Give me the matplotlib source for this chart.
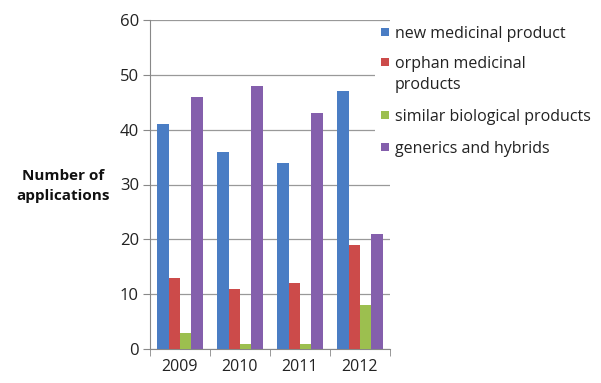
import numpy as np
import matplotlib
matplotlib.use('Agg')
import matplotlib.pyplot as plt
from matplotlib.patches import Rectangle

years = ['2009', '2010', '2011', '2012']
new_medicinal = [41, 36, 34, 47]
orphan_medicinal = [13, 11, 12, 19]
similar_biological = [3, 1, 1, 8]
generics_hybrids = [46, 48, 43, 21]

series_labels = ['new medicinal product', 'orphan medicinal\nproducts',
                 'similar biological products', 'generics and hybrids']
series_colors = ['#4A7DC4', '#CC4B4A', '#9CBF4F', '#845FAC']

plt.rcParams['font.family'] = ['Open Sans', 'DejaVu Sans']

W, H = 601, 383
fig = plt.figure(figsize=(W/100, H/100), dpi=100)
ax = fig.add_axes([150/W, 1-349/H, 240/W, (349-20)/H])

x = np.arange(len(years))
w = 0.19
all_series = [new_medicinal, orphan_medicinal, similar_biological, generics_hybrids]
for k, (vals, lab, col) in enumerate(zip(all_series, series_labels, series_colors)):
    ax.bar(x + (k - 1.5) * w, vals, width=w, color=col, label=lab, zorder=3)

ax.set_xlim(-0.5, len(years) - 0.5)
ax.set_ylim(0, 60)
ax.set_yticks(range(0, 61, 10))
ax.set_xticks(x)
ax.set_xticklabels(years)
ax.set_xticks(np.arange(-0.5, len(years), 1), minor=True)
ax.tick_params(axis='x', which='major', length=0, labelsize=11.5, pad=7, labelcolor='#222222')
ax.tick_params(axis='x', which='minor', length=5, color='#888888')
ax.tick_params(axis='y', length=5, color='#888888', labelsize=12, pad=3, labelcolor='#222222')
ax.yaxis.grid(True, color='#999999', linewidth=0.9, zorder=0)
for s in ['top', 'right']:
    ax.spines[s].set_visible(False)
for s in ['left', 'bottom']:
    ax.spines[s].set_color('#888888')

fig.text(63/W, 1-186/H, 'Number of\napplications', ha='center', va='center',
         fontsize=11, fontweight='bold', linespacing=1.5, color='#111111')

# legend drawn by hand so the swatch sits on the first line of wrapped labels
fig.patches.append(Rectangle((375/W, 1-160/H), 226/W, 137/H, transform=fig.transFigure,
                             facecolor='white', edgecolor='none', zorder=5))
entry_y = [32, 62, 115, 147]
for lab, col, yy in zip(series_labels, series_colors, entry_y):
    fig.patches.append(Rectangle((381/W, 1-(yy+4)/H), 8/W, 8/H, transform=fig.transFigure,
                                 facecolor=col, edgecolor='none', zorder=6))
    fig.text(395/W, 1-(yy-6)/H, lab, ha='left', va='top', fontsize=11.5,
             color='#222222', linespacing=1.45, zorder=7)

fig.savefig('out.png', dpi=100)
